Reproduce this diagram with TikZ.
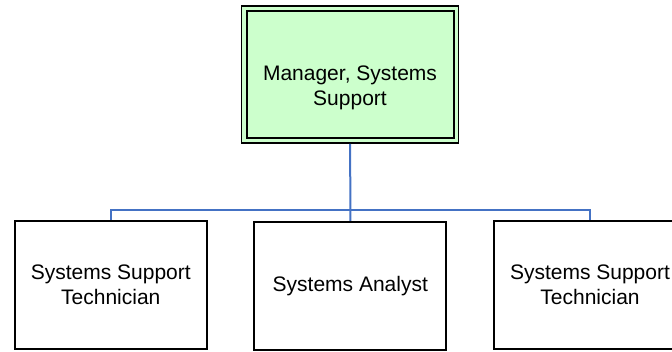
\documentclass[tikz,border=0pt]{standalone}
\usepackage{fontspec}
\setmainfont{Liberation Sans}
\begin{document}
\begin{tikzpicture}[x=1pt,y=-1pt,
  lbl/.style={font=\fontsize{21}{25}\selectfont, align=center, inner sep=0pt},
  posbox/.style={draw=black, line width=1.8pt, fill=white, minimum width=192pt, minimum height=128.5pt, inner sep=0pt, lbl},
  conn/.style={draw={rgb,255:red,68;green,114;blue,196}, line width=2pt}]
\useasboundingbox (0,0) rectangle (672,352);
\definecolor{mgrfill}{RGB}{204,255,204}
% manager box (double border)
\node[draw=black, line width=1.8pt, fill=mgrfill, minimum width=217pt, minimum height=137pt, inner sep=0pt] (mgr) at (350,74.5) {};
\node[draw=black, line width=1.8pt, minimum width=207pt, minimum height=127pt, inner sep=0pt] (mgrin) at (350.5,74.5) {};
\node[lbl] (mgrtext) at (350,87.5) {Manager, Systems\\Support};
% subordinate boxes
\node[posbox] (left) at (110.8,285) {Systems Support\\Technician};
\node[posbox] (mid) at (350.3,286) {Systems Analyst};
\node[posbox] (right) at (590,285) {Systems Support\\Technician};
% connectors
\coordinate (bus) at (350.5,210.5);
\draw[conn] (mgr.south) -- (bus);
\draw[conn] (bus) -| (left.north);
\draw[conn] (bus) -| (right.north);
\draw[conn] (bus) -- (mid.north);
\end{tikzpicture}
\end{document}
